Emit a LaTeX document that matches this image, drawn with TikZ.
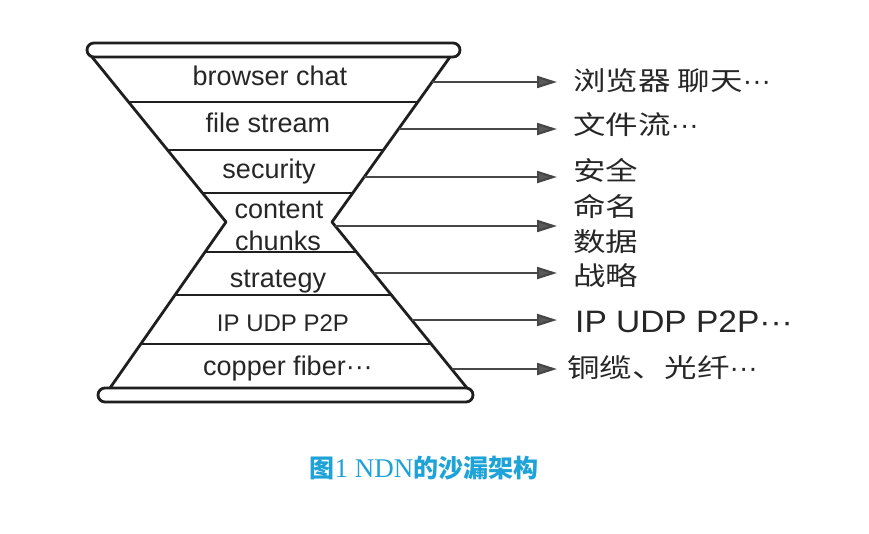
\documentclass[tikz,border=0pt]{standalone}
\usepackage{fontspec}
\setmainfont{Liberation Sans}
\newfontfamily\cjk{Noto Sans CJK SC}[FakeStretch=1.25]
\newfontfamily\capcjk{Noto Sans CJK SC}
\newfontfamily\capserif{Liberation Serif}
\newfontfamily\widesans{Liberation Sans}[FakeStretch=1.08]
\newcommand{\mydots}{{\rmfamily\fontsize{28}{30}\selectfont ···}}
\usetikzlibrary{arrows.meta}
\definecolor{ink}{HTML}{262626}
\definecolor{capblue}{HTML}{1EA3D8}
\tikzset{
  outline/.style={line width=2.8pt, draw=black!88, line join=round},
  bar/.style={line width=2.8pt, draw=black!88, rounded corners=7pt},
  layertext/.style={inner sep=0pt, anchor=base, text=ink, font=\fontsize{27}{32}\selectfont},
  lab/.style={inner sep=0pt, anchor=west, text=ink, font=\cjk\fontsize{26}{35}\selectfont, align=left},
  arr/.style={line width=2.2pt, draw=black!72, -{Triangle[length=20pt,width=12pt,fill=black!65]}},
}
\begin{document}
\begin{tikzpicture}[x=1pt,y=-1pt]
\useasboundingbox[fill=white] (0,0) rectangle (869,533);

% hourglass outline
\draw[bar] (87,43) rectangle (460,57);
\draw[bar] (98,388) rectangle (473,402);
\coordinate (tl) at (92,57);
\coordinate (tr) at (450,57);
\coordinate (pl) at (226,222);
\coordinate (pr) at (332,222);
\coordinate (bl) at (110,388);
\coordinate (br) at (467,388);
\draw[outline] (tl) -- (pl) -- (bl);
\draw[outline] (tr) -- (pr) -- (br);

% layer boundaries
\draw[outline] (128.5,102) -- (417.8,102);
\draw[outline] (167.5,150) -- (383.5,150);
\draw[outline] (202.5,193) -- (352.7,193);
\draw[outline] (205,252) -- (356.4,252);
\draw[outline] (175,295) -- (391.4,295);
\draw[outline] (140.7,344) -- (431.2,344);

% layer texts
\node[layertext] (n1) at (270,85) {browser chat};
\node[layertext] (n2) at (268,132) {file stream};
\node[layertext] (n3) at (269,178) {security};
\node[layertext] (n4a) at (279,218) {content};
\node[layertext] (n4b) at (278,250) {chunks};
\node[layertext] (n5) at (278,287) {strategy};
\node[layertext, font=\fontsize{24}{28}\selectfont] (n6) at (283,331) {IP UDP P2P};
\node[layertext] (n7) at (288,375) {copper fiber···};

% right labels
\node[lab] (l1) at (573,81) {浏览器 聊天\mydots};
\node[lab] (l2) at (573,125) {文件流\mydots};
\node[lab] (l3) at (573,170) {安全};
\node[lab] (l4) at (573,224) {命名\\数据};
\node[lab] (l5) at (573,276) {战略};
\node[lab, font=\widesans\fontsize{31}{35}\selectfont] (l6) at (575,322) {IP UDP P2P···};
\node[lab] (l7) at (567,368) {铜缆、光纤\mydots};

% arrows
\coordinate (s1) at (432,82);   \coordinate (t1) at (557,82);
\coordinate (s2) at (398.5,129);\coordinate (t2) at (557,129);
\coordinate (s3) at (364.2,177);\coordinate (t3) at (557,177);
\coordinate (s4) at (335,226);  \coordinate (t4) at (557,226);
\coordinate (s5) at (373.5,273);\coordinate (t5) at (557,273);
\coordinate (s6) at (411.7,320);\coordinate (t6) at (557,320);
\coordinate (s7) at (451.5,369);\coordinate (t7) at (557,369);
\foreach \i in {1,...,7} \draw[arr] (s\i) -- (t\i);

% caption
\node[inner sep=0pt, text=capblue] (cap) at (424,468)
  {\capcjk\bfseries\fontsize{25}{28}\selectfont 图{\capserif\mdseries\fontsize{27}{28}\selectfont 1 NDN}的沙漏架构};
\end{tikzpicture}
\end{document}
